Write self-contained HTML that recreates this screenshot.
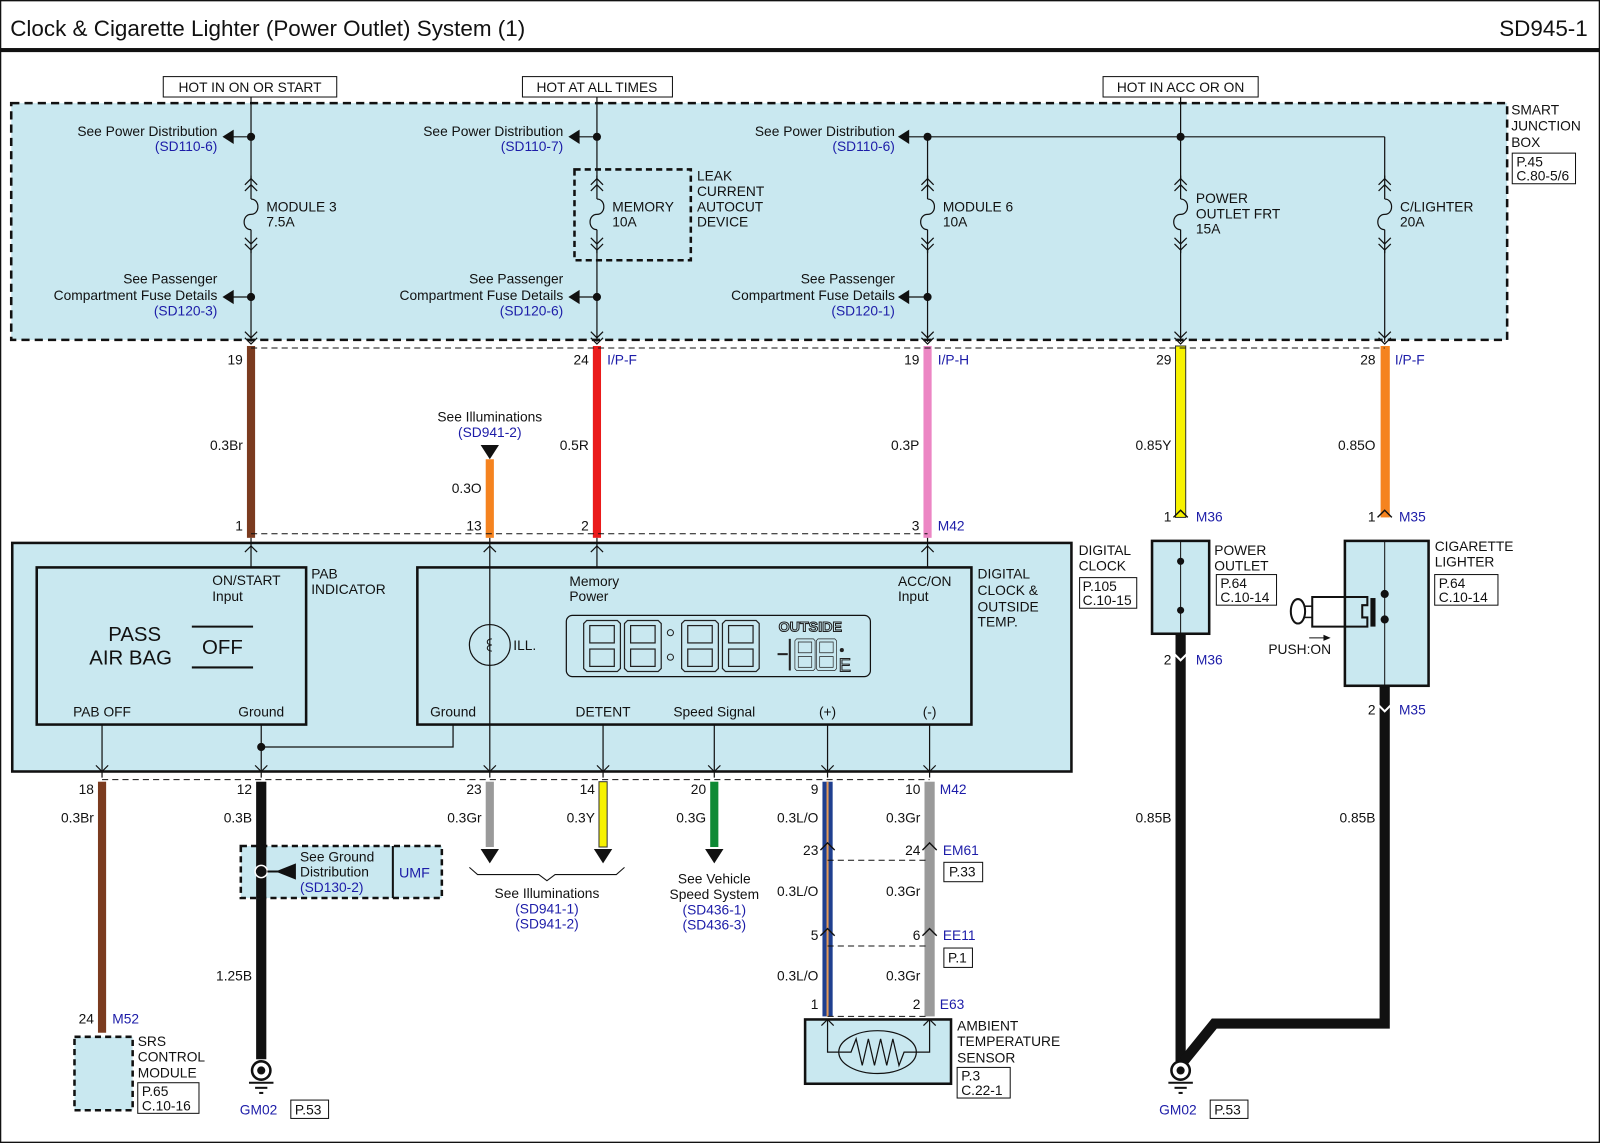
<!DOCTYPE html>
<html><head><meta charset="utf-8"><style>
html,body{margin:0;padding:0;background:#fff}
svg{display:block}
text{font-family:"Liberation Sans",sans-serif;font-size:13.5px;fill:#111}
.b{fill:#1c1ca8}
.r{text-anchor:end}
.m{text-anchor:middle}
</style></head><body>
<svg width="1600" height="1143" viewBox="0 0 1568 1120" xmlns="http://www.w3.org/2000/svg">
<defs>
<g id="fuse" fill="none" stroke="#111" stroke-width="1.2">
<line x1="0" y1="172" x2="0" y2="195"/>
<polyline points="-6,181 0,175 6,181"/><polyline points="-6,187 0,181 6,187"/>
<path d="M0,195 c9,0 9,15 0,15 c-9,0 -9,15 0,15"/>
<line x1="0" y1="225" x2="0" y2="248"/>
<polyline points="-6,233 0,239 6,233"/><polyline points="-6,239 0,245 6,239"/>
</g>
<g id="cvd" fill="none" stroke="#111" stroke-width="1.2"><polyline points="-6,-10 0,-4 6,-10"/><polyline points="-6,-4 0,2 6,-4"/></g>
<g id="cvu" fill="none" stroke="#111" stroke-width="1.4"><polyline points="-7,7 0,0 7,7"/></g>
<g id="d8" fill="none" stroke="#222" stroke-width="1.2">
<path d="M3,0 H33 L36,3 V47 L33,50 H3 L0,47 V3 Z"/>
<rect x="6" y="5" width="24" height="17"/><rect x="6" y="28" width="24" height="17"/>
</g>
</defs>
<rect x="0.5" y="0.5" width="1567" height="1119" fill="none" stroke="#111" stroke-width="1.5"/>
<text x="10" y="35" style="font-size:22px">Clock &amp; Cigarette Lighter (Power Outlet) System (1)</text>
<text x="1556" y="35" class="r" style="font-size:22px">SD945-1</text>
<rect x="0" y="47" width="1568" height="4" fill="#111"/>

<rect x="11" y="101" width="1466" height="232" fill="#c9e8f0" stroke="#111" stroke-width="2.5" stroke-dasharray="8,5"/>
<text x="1481" y="112">SMART</text><text x="1481" y="128">JUNCTION</text><text x="1481" y="144">BOX</text>
<rect x="1482" y="150" width="62" height="30" fill="none" stroke="#111"/>
<text x="1486" y="163">P.45</text><text x="1486" y="177">C.80-5/6</text>

<rect x="160" y="75" width="170" height="20" fill="#fff" stroke="#111"/><text x="245" y="90" class="m">HOT IN ON OR START</text>
<rect x="512" y="75" width="147" height="20" fill="#fff" stroke="#111"/><text x="585" y="90" class="m">HOT AT ALL TIMES</text>
<rect x="1081" y="75" width="152" height="20" fill="#fff" stroke="#111"/><text x="1157" y="90" class="m">HOT IN ACC OR ON</text>

<g stroke="#111" stroke-width="1.2" fill="none">
<line x1="246" y1="95" x2="246" y2="175"/><line x1="246" y1="245" x2="246" y2="335"/>
<line x1="585" y1="95" x2="585" y2="175"/><line x1="585" y1="245" x2="585" y2="335"/>
<line x1="909" y1="134" x2="909" y2="175"/><line x1="909" y1="245" x2="909" y2="335"/>
<line x1="1157" y1="95" x2="1157" y2="175"/><line x1="1157" y1="245" x2="1157" y2="335"/>
<line x1="1357" y1="134" x2="1357" y2="175"/><line x1="1357" y1="245" x2="1357" y2="335"/>
<line x1="890" y1="134" x2="1357" y2="134"/>
<line x1="228" y1="134" x2="246" y2="134"/><line x1="567" y1="134" x2="585" y2="134"/>
<line x1="228" y1="291" x2="246" y2="291"/><line x1="567" y1="291" x2="585" y2="291"/><line x1="890" y1="291" x2="909" y2="291"/>
</g>
<use href="#fuse" x="246"/><use href="#fuse" x="585"/><use href="#fuse" x="909"/><use href="#fuse" x="1157"/><use href="#fuse" x="1357"/>
<g fill="#111">
<circle cx="246" cy="134" r="4"/><circle cx="585" cy="134" r="4"/><circle cx="909" cy="134" r="4"/><circle cx="1157" cy="134" r="4"/>
<circle cx="246" cy="291" r="4"/><circle cx="585" cy="291" r="4"/><circle cx="909" cy="291" r="4"/>
<polygon points="218,134 229,127 229,141"/><polygon points="557,134 568,127 568,141"/><polygon points="880,134 891,127 891,141"/>
<polygon points="218,291 229,284 229,298"/><polygon points="557,291 568,284 568,298"/><polygon points="880,291 891,284 891,298"/>
</g>
<text x="213" y="133" class="r">See Power Distribution</text><text x="213" y="148" class="r b">(SD110-6)</text>
<text x="552" y="133" class="r">See Power Distribution</text><text x="552" y="148" class="r b">(SD110-7)</text>
<text x="877" y="133" class="r">See Power Distribution</text><text x="877" y="148" class="r b">(SD110-6)</text>
<text x="213" y="278" class="r">See Passenger</text><text x="213" y="294" class="r">Compartment Fuse Details</text><text x="213" y="309" class="r b">(SD120-3)</text>
<text x="552" y="278" class="r">See Passenger</text><text x="552" y="294" class="r">Compartment Fuse Details</text><text x="552" y="309" class="r b">(SD120-6)</text>
<text x="877" y="278" class="r">See Passenger</text><text x="877" y="294" class="r">Compartment Fuse Details</text><text x="877" y="309" class="r b">(SD120-1)</text>
<text x="261" y="207">MODULE 3</text><text x="261" y="222">7.5A</text>
<rect x="563" y="166" width="114" height="89" fill="none" stroke="#111" stroke-width="2.5" stroke-dasharray="6,4"/>
<text x="600" y="207">MEMORY</text><text x="600" y="222">10A</text>
<text x="683" y="177">LEAK</text><text x="683" y="192">CURRENT</text><text x="683" y="207">AUTOCUT</text><text x="683" y="222">DEVICE</text>
<text x="924" y="207">MODULE 6</text><text x="924" y="222">10A</text>
<text x="1172" y="199">POWER</text><text x="1172" y="214">OUTLET FRT</text><text x="1172" y="229">15A</text>
<text x="1372" y="207">C/LIGHTER</text><text x="1372" y="222">20A</text>

<rect x="242" y="339" width="8" height="188" fill="#7b3b1f"/>
<rect x="581" y="339" width="8" height="188" fill="#ea1a1a"/>
<rect x="905" y="339" width="8" height="188" fill="#ec86c4"/>
<rect x="1152" y="339" width="10" height="168" fill="#f7f200" stroke="#333" stroke-width="1"/>
<rect x="1353" y="339" width="9" height="168" fill="#f5831f"/>
<rect x="476" y="450" width="8" height="77" fill="#f5831f"/>
<use href="#cvd" x="246" y="335"/><use href="#cvd" x="585" y="335"/><use href="#cvd" x="909" y="335"/><use href="#cvd" x="1157" y="335"/><use href="#cvd" x="1357" y="335"/>
<line x1="246" y1="341" x2="1357" y2="341" stroke="#111" stroke-dasharray="6,4"/>
<text x="238" y="357" class="r">19</text><text x="577" y="357" class="r">24</text><text x="595" y="357" class="b">I/P-F</text>
<text x="901" y="357" class="r">19</text><text x="919" y="357" class="b">I/P-H</text>
<text x="1148" y="357" class="r">29</text><text x="1348" y="357" class="r">28</text><text x="1367" y="357" class="b">I/P-F</text>
<text x="238" y="441" class="r">0.3Br</text><text x="577" y="441" class="r">0.5R</text><text x="901" y="441" class="r">0.3P</text>
<text x="1148" y="441" class="r">0.85Y</text><text x="1348" y="441" class="r">0.85O</text>
<text x="472" y="483" class="r">0.3O</text>
<text x="480" y="413" class="m">See Illuminations</text><text x="480" y="428" class="m b">(SD941-2)</text>
<polygon points="471,436 489,436 480,450" fill="#111"/>
<text x="238" y="520" class="r">1</text><text x="472" y="520" class="r">13</text><text x="577" y="520" class="r">2</text>
<text x="901" y="520" class="r">3</text><text x="919" y="520" class="b">M42</text>
<line x1="246" y1="523" x2="909" y2="523" stroke="#111" stroke-dasharray="6,4"/>
<text x="1148" y="511" class="r">1</text><text x="1172" y="511" class="b">M36</text>
<text x="1348" y="511" class="r">1</text><text x="1371" y="511" class="b">M35</text>
<use href="#cvu" x="1157" y="500"/><use href="#cvu" x="1357" y="500"/>

<rect x="12" y="532" width="1038" height="224" fill="#c9e8f0" stroke="#111" stroke-width="2.5"/>
<rect x="36" y="556" width="264" height="154" fill="#c9e8f0" stroke="#111" stroke-width="2.5"/>
<rect x="409" y="556" width="543" height="154" fill="#c9e8f0" stroke="#111" stroke-width="2.5"/>
<text x="305" y="567">PAB</text><text x="305" y="582">INDICATOR</text>
<text x="958" y="567">DIGITAL</text><text x="958" y="583">CLOCK &amp;</text><text x="958" y="599">OUTSIDE</text><text x="958" y="614">TEMP.</text>
<text x="1057" y="544">DIGITAL</text><text x="1057" y="559">CLOCK</text>
<rect x="1058" y="566" width="56" height="30" fill="none" stroke="#111"/><text x="1061" y="579">P.105</text><text x="1061" y="593">C.10-15</text>
<text x="208" y="573">ON/START</text><text x="208" y="589">Input</text>
<text x="132" y="628" class="m" style="font-size:20px">PASS</text><text x="128" y="651" class="m" style="font-size:20px">AIR BAG</text>
<line x1="188" y1="614" x2="248" y2="614" stroke="#111" stroke-width="2"/><line x1="188" y1="654" x2="248" y2="654" stroke="#111" stroke-width="2"/>
<text x="218" y="641" class="m" style="font-size:20px">OFF</text>
<text x="100" y="702" class="m">PAB OFF</text><text x="256" y="702" class="m">Ground</text>
<text x="558" y="574">Memory</text><text x="558" y="589">Power</text>
<text x="880" y="574">ACC/ON</text><text x="880" y="589">Input</text>
<text x="444" y="702" class="m">Ground</text><text x="591" y="702" class="m">DETENT</text><text x="700" y="702" class="m">Speed Signal</text>
<text x="811" y="702" class="m">(+)</text><text x="911" y="702" class="m">(-)</text>
<rect x="555" y="603" width="298" height="60" rx="6" fill="#c9e8f0" stroke="#111" stroke-width="1.2"/>
<use href="#d8" x="572" y="608"/><use href="#d8" x="612" y="608"/>
<circle cx="657" cy="620" r="3" fill="none" stroke="#222"/><circle cx="657" cy="644" r="3" fill="none" stroke="#222"/>
<use href="#d8" x="668" y="608"/><use href="#d8" x="708" y="608"/>
<text x="763" y="619" style="font-size:14px;font-weight:bold;fill:#c9e8f0;stroke:#222;stroke-width:1">OUTSIDE</text>
<line x1="762" y1="641" x2="772" y2="641" stroke="#222" stroke-width="2"/>
<line x1="774" y1="626" x2="774" y2="657" stroke="#222" stroke-width="2"/>
<use href="#d8" transform="translate(779,626) scale(0.55,0.62)"/><use href="#d8" transform="translate(800,626) scale(0.55,0.62)"/>
<circle cx="825" cy="637" r="2" fill="#222"/><text x="822" y="658" style="font-size:18px;fill:none;stroke:#222">E</text>
<circle cx="480" cy="632" r="20" fill="none" stroke="#111" stroke-width="1.2"/>
<path d="M482,626 c-6,0 -6,6 0,6 c-6,0 -6,6 0,6" fill="none" stroke="#111"/>
<text x="503" y="637">ILL.</text>
<g stroke="#111" stroke-width="1.2" fill="none">
<line x1="246" y1="527" x2="246" y2="556"/><polyline points="240,541 246,535 252,541"/>
<line x1="585" y1="527" x2="585" y2="556"/><polyline points="579,541 585,535 591,541"/>
<line x1="909" y1="527" x2="909" y2="556"/><polyline points="903,541 909,535 915,541"/>
<line x1="480" y1="527" x2="480" y2="762"/><polyline points="474,541 480,535 486,541"/>
<line x1="100" y1="710" x2="100" y2="762"/><line x1="256" y1="710" x2="256" y2="762"/>
<polyline points="256,732 444,732 444,710"/>
<line x1="591" y1="710" x2="591" y2="762"/><line x1="700" y1="710" x2="700" y2="762"/>
<line x1="811" y1="710" x2="811" y2="762"/><line x1="911" y1="710" x2="911" y2="762"/>
</g>
<circle cx="256" cy="732" r="4" fill="#111"/>
<g fill="none" stroke="#111" stroke-width="1.2">
<polyline points="94,750 100,756 106,750"/><polyline points="250,750 256,756 262,750"/><polyline points="474,750 480,756 486,750"/>
<polyline points="585,750 591,756 597,750"/><polyline points="694,750 700,756 706,750"/><polyline points="805,750 811,756 817,750"/><polyline points="905,750 911,756 917,750"/>
</g>
<line x1="100" y1="764" x2="911" y2="764" stroke="#111" stroke-dasharray="6,4"/>

<rect x="96" y="766" width="8" height="246" fill="#7b3b1f"/>
<rect x="251" y="766" width="10" height="272" fill="#111"/>
<rect x="476" y="766" width="8" height="64" fill="#9a9a9a"/>
<rect x="587" y="766" width="8" height="64" fill="#f7f200" stroke="#333"/>
<rect x="696" y="766" width="8" height="64" fill="#0f8a35"/>
<rect x="806" y="766" width="10" height="230" fill="#1f3f8f"/><rect x="810" y="766" width="2" height="230" fill="#e39a5a"/>
<rect x="906" y="766" width="10" height="230" fill="#9a9a9a"/>
<polygon points="471,832 489,832 480,846" fill="#111"/><polygon points="582,832 600,832 591,846" fill="#111"/><polygon points="691,832 709,832 700,846" fill="#111"/>
<path d="M460,850 l8,7 h60 l8,6 l8,-6 h60 l8,-7" fill="none" stroke="#111"/>
<text x="536" y="880" class="m">See Illuminations</text><text x="536" y="895" class="m b">(SD941-1)</text><text x="536" y="910" class="m b">(SD941-2)</text>
<text x="700" y="866" class="m">See Vehicle</text><text x="700" y="881" class="m">Speed System</text><text x="700" y="896" class="m b">(SD436-1)</text><text x="700" y="911" class="m b">(SD436-3)</text>
<text x="92" y="778" class="r">18</text><text x="92" y="806" class="r">0.3Br</text>
<text x="247" y="778" class="r">12</text><text x="247" y="806" class="r">0.3B</text><text x="247" y="961" class="r">1.25B</text>
<text x="472" y="778" class="r">23</text><text x="472" y="806" class="r">0.3Gr</text>
<text x="583" y="778" class="r">14</text><text x="583" y="806" class="r">0.3Y</text>
<text x="692" y="778" class="r">20</text><text x="692" y="806" class="r">0.3G</text>
<text x="802" y="778" class="r">9</text><text x="802" y="806" class="r">0.3L/O</text><text x="802" y="838" class="r">23</text><text x="802" y="878" class="r">0.3L/O</text><text x="802" y="921" class="r">5</text><text x="802" y="961" class="r">0.3L/O</text><text x="802" y="989" class="r">1</text>
<text x="902" y="778" class="r">10</text><text x="921" y="778" class="b">M42</text><text x="902" y="806" class="r">0.3Gr</text>
<text x="902" y="838" class="r">24</text><text x="924" y="838" class="b">EM61</text>
<rect x="925" y="845" width="38" height="19" fill="none" stroke="#111"/><text x="930" y="859">P.33</text>
<text x="902" y="878" class="r">0.3Gr</text>
<text x="902" y="921" class="r">6</text><text x="924" y="921" class="b">EE11</text>
<rect x="925" y="929" width="28" height="19" fill="none" stroke="#111"/><text x="929" y="943">P.1</text>
<text x="902" y="961" class="r">0.3Gr</text>
<text x="902" y="989" class="r">2</text><text x="921" y="989" class="b">E63</text>
<use href="#cvu" x="811" y="826"/><use href="#cvu" x="911" y="826"/><use href="#cvu" x="811" y="910"/><use href="#cvu" x="911" y="910"/>
<line x1="811" y1="843" x2="911" y2="843" stroke="#111" stroke-dasharray="6,4"/>
<line x1="811" y1="927" x2="911" y2="927" stroke="#111" stroke-dasharray="6,4"/>
<line x1="811" y1="996" x2="911" y2="996" stroke="#111" stroke-dasharray="6,4"/>

<rect x="789" y="999" width="143" height="63" fill="#c9e8f0" stroke="#111" stroke-width="2.5"/>
<g fill="none" stroke="#111" stroke-width="1.2">
<polyline points="805,1005 811,999 817,1005"/><polyline points="905,1005 911,999 917,1005"/>
<polyline points="811,999 811,1031 823,1031"/><polyline points="911,999 911,1031 898,1031"/>
<ellipse cx="860" cy="1031" rx="38" ry="21"/>
<polyline points="823,1031 834,1031 839,1018 845,1044 851,1018 857,1044 863,1018 869,1044 875,1018 881,1044 886,1031 898,1031"/>
</g>
<text x="938" y="1010">AMBIENT</text><text x="938" y="1025">TEMPERATURE</text><text x="938" y="1041">SENSOR</text>
<rect x="938" y="1046" width="52" height="30" fill="none" stroke="#111"/><text x="942" y="1059">P.3</text><text x="942" y="1073">C.22-1</text>

<rect x="236" y="829" width="197" height="51" fill="#c9e8f0" stroke="#111" stroke-width="2.5" stroke-dasharray="6,4"/>
<rect x="251" y="829" width="10" height="51" fill="#111"/>
<line x1="385" y1="829" x2="385" y2="880" stroke="#111" stroke-width="2"/>
<circle cx="256" cy="854" r="6" fill="#111" stroke="#fff" stroke-width="1.5"/>
<line x1="262" y1="854" x2="280" y2="854" stroke="#111" stroke-width="2"/><polygon points="270,854 290,846 290,862" fill="#111"/>
<text x="294" y="844">See Ground</text><text x="294" y="859">Distribution</text><text x="294" y="874" class="b">(SD130-2)</text>
<text x="391" y="860" class="b" style="font-size:14px">UMF</text>

<text x="92" y="1003" class="r">24</text><text x="110" y="1003" class="b">M52</text>
<rect x="73" y="1016" width="57" height="72" fill="#c9e8f0" stroke="#111" stroke-width="2.5" stroke-dasharray="6,4"/>
<text x="135" y="1025">SRS</text><text x="135" y="1040">CONTROL</text><text x="135" y="1056">MODULE</text>
<rect x="135" y="1061" width="60" height="30" fill="none" stroke="#111"/><text x="139" y="1074">P.65</text><text x="139" y="1088">C.10-16</text>

<g>
<circle cx="256" cy="1049" r="9" fill="#fff" stroke="#111" stroke-width="2.5"/><circle cx="256" cy="1049" r="4" fill="#111"/>
<line x1="244" y1="1061" x2="268" y2="1061" stroke="#111" stroke-width="2"/><line x1="250" y1="1066" x2="262" y2="1066" stroke="#111" stroke-width="2"/><line x1="254" y1="1071" x2="258" y2="1071" stroke="#111" stroke-width="2"/>
<text x="235" y="1092" class="b">GM02</text><rect x="285" y="1078" width="37" height="18" fill="none" stroke="#111"/><text x="289" y="1092">P.53</text>
</g>
<g>
<circle cx="1157" cy="1049" r="9" fill="#fff" stroke="#111" stroke-width="2.5"/><circle cx="1157" cy="1049" r="4" fill="#111"/>
<line x1="1145" y1="1061" x2="1169" y2="1061" stroke="#111" stroke-width="2"/><line x1="1151" y1="1066" x2="1163" y2="1066" stroke="#111" stroke-width="2"/><line x1="1155" y1="1071" x2="1159" y2="1071" stroke="#111" stroke-width="2"/>
<text x="1136" y="1092" class="b">GM02</text><rect x="1186" y="1078" width="37" height="18" fill="none" stroke="#111"/><text x="1190" y="1092">P.53</text>
</g>

<rect x="1152" y="620" width="10" height="420" fill="#111"/>
<polyline points="1357,672 1357,1003 1190,1003 1160,1040" fill="none" stroke="#111" stroke-width="10"/>
<rect x="1129" y="530" width="56" height="91" fill="#c9e8f0" stroke="#111" stroke-width="2.5"/>
<line x1="1157" y1="530" x2="1157" y2="621" stroke="#111"/>
<circle cx="1157" cy="550" r="3.5" fill="#111"/><circle cx="1157" cy="598" r="3.5" fill="#111"/>
<polyline points="1150,640 1157,647 1164,640" fill="none" stroke="#fff" stroke-width="2"/>
<text x="1148" y="651" class="r">2</text><text x="1172" y="651" class="b">M36</text>
<text x="1190" y="544">POWER</text><text x="1190" y="559">OUTLET</text>
<rect x="1192" y="563" width="59" height="30" fill="none" stroke="#111"/><text x="1196" y="576">P.64</text><text x="1196" y="590">C.10-14</text>
<text x="1148" y="806" class="r">0.85B</text><text x="1348" y="806" class="r">0.85B</text>

<rect x="1318" y="530" width="82" height="142" fill="#c9e8f0" stroke="#111" stroke-width="2.5"/>
<line x1="1357" y1="530" x2="1357" y2="672" stroke="#111"/>
<circle cx="1357" cy="582" r="4" fill="#111"/><circle cx="1357" cy="607" r="4" fill="#111"/>
<polyline points="1318,585 1286,585 1286,614 1318,614" fill="none" stroke="#111" stroke-width="2"/>
<polyline points="1318,585 1340,585 1340,593 1335,593 1335,605 1340,605 1340,614 1318,614" fill="none" stroke="#111" stroke-width="2"/>
<rect x="1343" y="586" width="5" height="28" fill="#111"/>
<line x1="1278" y1="594" x2="1286" y2="594" stroke="#111" stroke-width="1.5"/><line x1="1278" y1="605" x2="1286" y2="605" stroke="#111" stroke-width="1.5"/>
<ellipse cx="1272" cy="599" rx="7" ry="12" fill="#fff" stroke="#111" stroke-width="2"/>
<line x1="1283" y1="625" x2="1302" y2="625" stroke="#111"/><polygon points="1304,625 1297,622 1297,628" fill="#111"/>
<text x="1243" y="641">PUSH:ON</text>
<text x="1406" y="540">CIGARETTE</text><text x="1406" y="555">LIGHTER</text>
<rect x="1406" y="563" width="62" height="30" fill="none" stroke="#111"/><text x="1410" y="576">P.64</text><text x="1410" y="590">C.10-14</text>
<polyline points="1350,690 1357,697 1364,690" fill="none" stroke="#fff" stroke-width="2"/>
<text x="1348" y="700" class="r">2</text><text x="1371" y="700" class="b">M35</text>
</svg>
</body></html>
